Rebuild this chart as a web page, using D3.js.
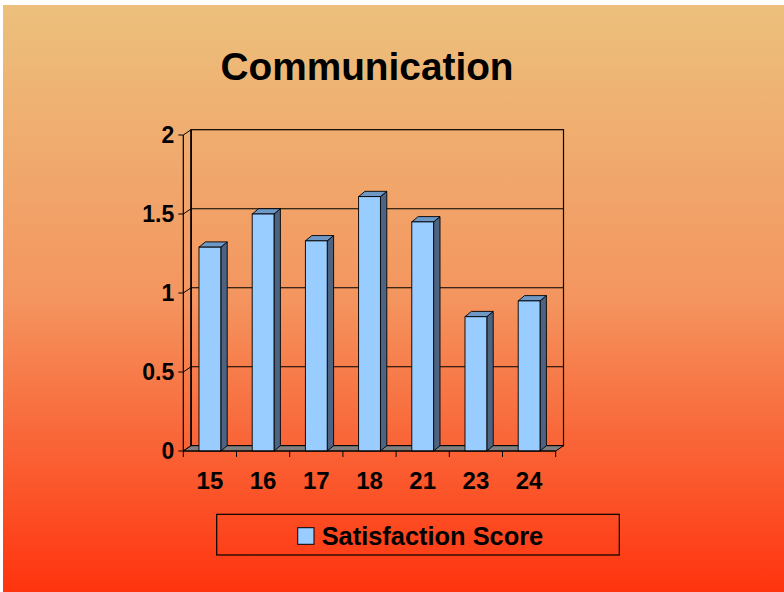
<!DOCTYPE html>
<html><head><meta charset="utf-8">
<script src="https://cdn.jsdelivr.net/npm/d3@7"></script>
<style>html,body{margin:0;padding:0;background:#fff;}svg{display:block;}</style>
</head><body>
<svg id="c" width="784" height="592"></svg>
<script>
const title = "Communication";
const categories = ["15","16","17","18","21","23","24"];
const seriesName = "Satisfaction Score";
const values = [1.29, 1.5, 1.33, 1.61, 1.45, 0.85, 0.95];
const yTicks = [0, 0.5, 1, 1.5, 2];
const yTickLabels = ["0","0.5","1","1.5","2"];

const svg = d3.select("#c");
const defs = svg.append("defs");
const grad = defs.append("linearGradient").attr("id","bg").attr("x1",0).attr("y1",0).attr("x2",0).attr("y2",1);
grad.append("stop").attr("offset","0%").attr("stop-color","#ECC07C");
grad.append("stop").attr("offset","50%").attr("stop-color","#F4955F");
grad.append("stop").attr("offset","100%").attr("stop-color","#FF330E");
svg.append("rect").attr("x",3).attr("y",5).attr("width",781).attr("height",587).attr("fill","url(#bg)");

const font = "'Liberation Sans', Arial, sans-serif";
svg.append("text").attr("x",367).attr("y",80).attr("text-anchor","middle")
  .attr("font-family",font).attr("font-weight","bold").attr("font-size",38.8).attr("fill","#000").text(title);

const x0 = 183.3, x1 = 555.7;
const x = d3.scaleBand().domain(categories).range([x0, x1]).paddingInner(0.59).paddingOuter(0.295);
const y = d3.scaleLinear().domain([0, 2]).range([451, 135]);
const wdx = 7.8, wdy = -5.3; // wall depth offset
const bdx = 6.4, bdy = -5.3; // bar depth offset

const g = svg.append("g");
// back wall
g.append("rect").attr("x", x0 + wdx).attr("y", y(2) + wdy).attr("width", x1 - x0)
  .attr("height", y(0) - y(2)).attr("fill","none").attr("stroke","#000").attr("stroke-width",1.2);
// gridlines on back wall and left wall
yTicks.forEach(t => {
  if (t > 0 && t < 2) {
    g.append("line").attr("x1", x0 + wdx).attr("x2", x1 + wdx).attr("y1", y(t) + wdy).attr("y2", y(t) + wdy)
      .attr("stroke","#000").attr("stroke-width",1.1);
  }
  g.append("line").attr("x1", x0).attr("y1", y(t)).attr("x2", x0 + wdx).attr("y2", y(t) + wdy)
    .attr("stroke","#000").attr("stroke-width",1);
});
// floor
g.append("path").attr("d", `M${x0},${y(0)}L${x1},${y(0)}L${x1+wdx},${y(0)+wdy}L${x0+wdx},${y(0)+wdy}Z`)
  .attr("fill","#808080").attr("stroke","#000").attr("stroke-width",1);
// left wall lines
g.append("line").attr("x1", x0).attr("x2", x0).attr("y1", y(0)).attr("y2", y(2)).attr("stroke","#000").attr("stroke-width",1.2);
g.append("line").attr("x1", x0+wdx).attr("x2", x0+wdx).attr("y1", y(0)+wdy).attr("y2", y(2)+wdy).attr("stroke","#000").attr("stroke-width",1.5);

// bars
const bars = g.selectAll("g.bar").data(categories.map((c,i)=>({c, v: values[i]}))).enter().append("g");
bars.each(function(d){
  const sel = d3.select(this);
  const xa = x(d.c), xb = xa + x.bandwidth(), yt = y(d.v), yb = y(0);
  sel.append("path").attr("d", `M${xb},${yt}L${xb+bdx},${yt+bdy}L${xb+bdx},${yb+bdy}L${xb},${yb}Z`)
    .attr("fill","#4D6382").attr("stroke","#000").attr("stroke-width",0.9);
  sel.append("path").attr("d", `M${xa},${yt}L${xb},${yt}L${xb+bdx},${yt+bdy}L${xa+bdx},${yt+bdy}Z`)
    .attr("fill","#6E98C6").attr("stroke","#000").attr("stroke-width",0.9);
  sel.append("rect").attr("x", xa).attr("y", yt).attr("width", x.bandwidth()).attr("height", yb - yt)
    .attr("fill","#99CCFF").attr("stroke","#000").attr("stroke-width",0.9);
});

// front axes
g.append("line").attr("x1", x0).attr("x2", x1).attr("y1", y(0)).attr("y2", y(0)).attr("stroke","#000").attr("stroke-width",1.2);
const step = x.step();
d3.range(categories.length + 1).forEach(k => {
  const xx = x0 + k * step;
  g.append("line").attr("x1", xx).attr("x2", xx).attr("y1", y(0)).attr("y2", y(0) + 6).attr("stroke","#000").attr("stroke-width",1);
});
yTicks.forEach((t,i) => {
  g.append("line").attr("x1", x0 - 5).attr("x2", x0).attr("y1", y(t)).attr("y2", y(t)).attr("stroke","#000").attr("stroke-width",1);
  g.append("text").attr("x", x0 - 9).attr("y", y(t)).attr("dy","0.36em").attr("text-anchor","end")
    .attr("font-family",font).attr("font-weight","bold").attr("font-size",23).text(yTickLabels[i]);
});
categories.forEach(c => {
  g.append("text").attr("x", x(c) + x.bandwidth()/2).attr("y", 489).attr("text-anchor","middle")
    .attr("font-family",font).attr("font-weight","bold").attr("font-size",24).text(c);
});

// legend
const lg = svg.append("g");
lg.append("rect").attr("x",216.7).attr("y",514.3).attr("width",402.6).attr("height",40.7)
  .attr("fill","none").attr("stroke","#000").attr("stroke-width",1.2);
lg.append("rect").attr("x",297.7).attr("y",527.7).attr("width",16.3).attr("height",16.6)
  .attr("fill","#99CCFF").attr("stroke","#000").attr("stroke-width",1);
lg.append("text").attr("x",321.7).attr("y",545).attr("font-family",font).attr("font-weight","bold")
  .attr("font-size",25.4).text(seriesName);
</script>
</body></html>
